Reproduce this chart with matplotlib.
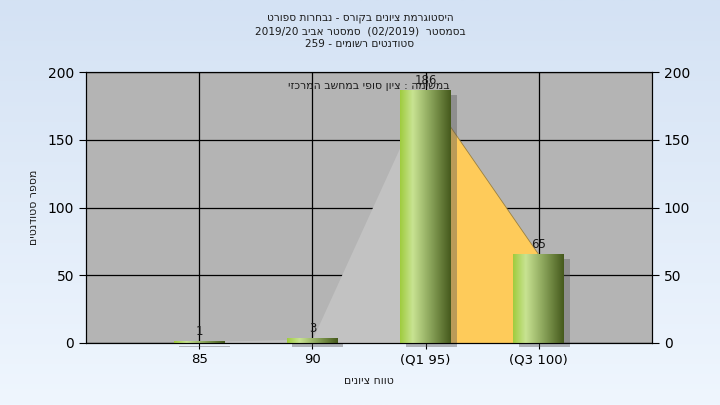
import numpy as np
import matplotlib
matplotlib.use("Agg")
import matplotlib.pyplot as plt
from matplotlib.colors import LinearSegmentedColormap
from matplotlib.patches import Rectangle
from matplotlib.transforms import ScaledTranslation

# נתונים
categories = ['85', '90', '(Q1 95)', '(Q3 100)']
counts = [1, 3, 186, 65]

title_lines = ['היסטוגרמת ציונים בקורס - נבחרות ספורט',
               'בסמסטר  (02/2019)  סמסטר אביב 2019/20',
               'סטודנטים רשומים - 259']
note_text = 'במשימה : ציון סופי במחשב המרכזי'
x_label = 'טווח ציונים'
y_label = 'מספר סטודנטים'


def heb(s):
    # matplotlib לא מטפל ב-RTL, אז הופכים ידנית לסדר חזותי
    out = []
    for tok in reversed(s.split(' ')):
        if any('\u0590' <= ch <= '\u05ff' for ch in tok):
            tok = tok[::-1]
        out.append(tok)
    return ' '.join(out)


plt.rcParams['font.family'] = ['DejaVu Sans']
txt_color = '#1a1a1a'

fig = plt.figure(figsize=(7.2, 4.05), dpi=100)

# רקע מדורג
bg = fig.add_axes([0, 0, 1, 1], zorder=-10)
grad = np.linspace(0, 1, 256).reshape(-1, 1)
bg_cmap = LinearSegmentedColormap.from_list('bg', ['#d4e2f4', '#eff6fe'])
bg.imshow(grad, aspect='auto', cmap=bg_cmap, extent=[0, 1, 0, 1])
bg.axis('off')

ax = fig.add_axes([0.1194, 0.1531, 0.7862, 0.6691])
ax.set_facecolor('#b4b4b4')
x = np.arange(1, len(categories) + 1)

# שטחים מאחורי העמודות
ax.fill_between(x[:3], counts[:3], color='#c2c2c2', zorder=1, linewidth=0)
ax.fill_between(x[2:], counts[2:], color='#fecb5a', zorder=1,
                edgecolor='#9a8040', linewidth=0.6)

# עמודות עם גרדיאנט
w = 0.45
bar_cmap = LinearSegmentedColormap.from_list(
    'bar', [(0, '#9fcc3e'), (0.25, '#c8e392'), (0.6, '#8aa45a'), (1, '#45591c')])
hgrad = np.linspace(0, 1, 256).reshape(1, -1)
shadow_tr = ax.transData + ScaledTranslation(4 / 72, -3 / 72, fig.dpi_scale_trans)
for xi, c in zip(x, counts):
    ax.add_patch(Rectangle((xi - w / 2, 0), w, c, facecolor='#555555', alpha=0.4,
                           transform=shadow_tr, zorder=2, linewidth=0, clip_on=False))
    ax.imshow(hgrad, aspect='auto', cmap=bar_cmap, zorder=3,
              extent=[xi - w / 2, xi + w / 2, 0, c])
    ax.text(xi, c + 3, str(c), ha='center', va='bottom', fontsize=8.5,
            color=txt_color, zorder=5)
ax.set_xlim(0, len(categories) + 1)
ax.set_ylim(0, 200)

ax.set_xticks(x)
ax.set_xticklabels(categories, fontsize=9.5)
ax.set_yticks([0, 50, 100, 150, 200])
ax.tick_params(axis='y', labelsize=10, length=5)
ax.tick_params(axis='x', length=4)
ax.grid(True, color='black', linewidth=0.9, zorder=0)
ax.set_axisbelow(True)
for sp in ax.spines.values():
    sp.set_color('black')

ax2 = ax.twinx()
ax2.set_ylim(0, 200)
ax2.set_yticks([0, 50, 100, 150, 200])
ax2.tick_params(axis='y', labelsize=10, length=5)

ax.text(2.5, 190, heb(note_text), ha='center', va='center', fontsize=7.8,
        color=txt_color, zorder=6)

ax.set_xlabel(heb(x_label), fontsize=7.8, color=txt_color, labelpad=7)
ax.set_ylabel(heb(y_label), fontsize=7.8, color=txt_color, labelpad=6)

for i, line in enumerate(title_lines):
    fig.text(0.5, 0.955 - i * 0.032, heb(line), ha='center', va='center',
             fontsize=7.6, color=txt_color)

fig.savefig('out.png', dpi=100)
